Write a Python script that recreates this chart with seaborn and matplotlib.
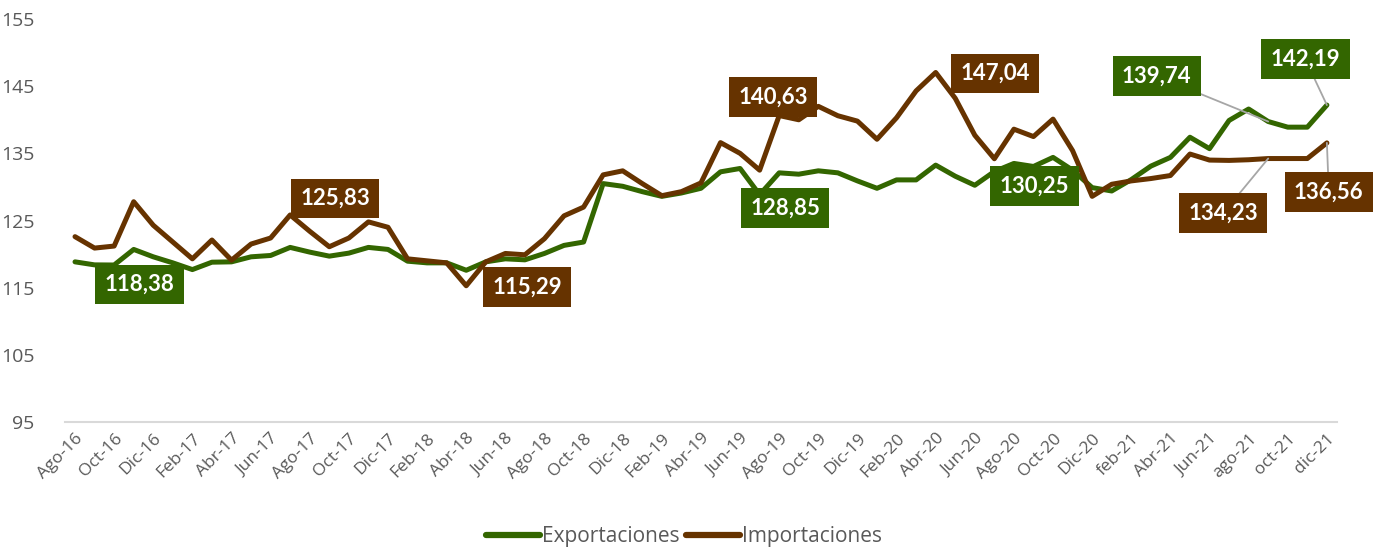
import matplotlib
matplotlib.use("Agg")
import matplotlib.pyplot as plt
import pandas as pd
import seaborn as sns

# monthly index values, Ago-16 .. dic-21
exportaciones = [
    118.85, 118.40, 118.38, 120.70, 119.60, 118.70, 117.70, 118.80, 118.85, 119.60,
    119.80, 121.00, 120.30, 119.70, 120.15, 121.00, 120.70, 118.95, 118.70, 118.70,
    117.60, 118.85, 119.30, 119.15, 120.10, 121.30, 121.80, 130.50, 130.10, 129.30,
    128.60, 129.10, 129.80, 132.25, 132.75, 128.85, 132.10, 131.90, 132.40, 132.10,
    130.90, 129.80, 131.05, 131.05, 133.25, 131.60, 130.25, 132.30, 133.50, 133.05,
    134.40, 132.50, 129.90, 129.40, 131.10, 133.10, 134.40, 137.40, 135.70, 139.90,
    141.60, 139.74, 138.90, 138.90, 142.19,
]
importaciones = [
    122.60, 120.90, 121.20, 127.80, 124.30, 121.80, 119.30, 122.10, 119.10, 121.50,
    122.40, 125.83, 123.40, 121.10, 122.40, 124.80, 124.00, 119.30, 119.00, 118.70,
    115.29, 118.85, 120.10, 119.90, 122.30, 125.70, 127.00, 131.80, 132.40, 130.50,
    128.70, 129.30, 130.60, 136.60, 135.00, 132.50, 140.63, 140.00, 142.00, 140.60,
    139.80, 137.10, 140.30, 144.30, 147.04, 143.20, 137.70, 134.20, 138.60, 137.50,
    140.10, 135.40, 128.60, 130.40, 130.90, 131.25, 131.70, 134.90, 134.00, 133.95,
    134.05, 134.23, 134.23, 134.23, 136.56,
]
tick_labels = [
    "Ago-16", "Oct-16", "Dic-16", "Feb-17", "Abr-17", "Jun-17", "Ago-17", "Oct-17",
    "Dic-17", "Feb-18", "Abr-18", "Jun-18", "Ago-18", "Oct-18", "Dic-18", "Feb-19",
    "Abr-19", "Jun-19", "Ago-19", "Oct-19", "Dic-19", "Feb-20", "Abr-20", "Jun-20",
    "Ago-20", "Oct-20", "Dic-20", "feb-21", "Abr-21", "Jun-21", "ago-21", "oct-21",
    "dic-21",
]
y_ticks = [95, 105, 115, 125, 135, 145, 155]

# labelled points: (month index, label x, label y, leader line)
labels_exp = [(2, 3.3, 115.5, False), (35, 36.3, 126.85, False), (46, 49.05, 130.1, False),
              (61, 55.3, 146.5, True), (64, 62.9, 149.0, True)]
labels_imp = [(11, 13.3, 128.3, False), (20, 23.1, 115.15, False), (36, 35.7, 143.4, False),
              (44, 47.05, 146.9, False), (61, 58.7, 126.1, True), (64, 64.1, 129.2, True)]

GREEN = "#336600"
BROWN = "#663300"
GREY = "#595959"

n = len(exportaciones)
df = pd.DataFrame({
    "mes": list(range(n)) * 2,
    "valor": exportaciones + importaciones,
    "serie": ["Exportaciones"] * n + ["Importaciones"] * n,
})

sns.set_style("white")
plt.rcParams["font.family"] = ["Open Sans", "DejaVu Sans"]

fig = plt.figure(figsize=(13.85, 5.51), dpi=100)
ax = fig.add_axes([0.0471, 0.234, 0.918, 0.7315])

sns.lineplot(data=df, x="mes", y="valor", hue="serie",
             palette={"Exportaciones": GREEN, "Importaciones": BROWN},
             linewidth=3.6, ax=ax, legend=True)

ax.set_xlim(-0.5, n - 0.5)
ax.set_ylim(95, 155)
ax.set_yticks(y_ticks)
ax.set_yticklabels([str(v) for v in y_ticks], fontsize=14, color=GREY)
ax.set_xticks(range(0, n, 2))
ax.set_xticklabels(tick_labels, rotation=45, ha="right", rotation_mode="anchor",
                   fontsize=12.5, color=GREY)
ax.tick_params(axis="both", length=0, pad=6)
ax.tick_params(axis="y", pad=22)
ax.set_xlabel("")
ax.set_ylabel("")
for side in ["top", "right", "left"]:
    ax.spines[side].set_visible(False)
ax.spines["bottom"].set_color("#d9d9d9")
ax.spines["bottom"].set_linewidth(1.5)


def add_labels(values, specs, color):
    for idx, lx, ly, leader in specs:
        arrow = None
        if leader:
            arrow = dict(arrowstyle="-", color="#a6a6a6", lw=1.3, shrinkA=0, shrinkB=0)
        ax.annotate(f"{values[idx]:.2f}".replace(".", ","),
                    xy=(idx, values[idx]), xytext=(lx, ly),
                    ha="center", va="center", fontsize=16, fontweight="bold",
                    family=["Lato", "DejaVu Sans"], color="white",
                    bbox=dict(boxstyle="square,pad=0.42", fc=color, ec="none"),
                    arrowprops=arrow, zorder=5)


add_labels(exportaciones, labels_exp, GREEN)
add_labels(importaciones, labels_imp, BROWN)

handles, names = ax.get_legend_handles_labels()
ax.get_legend().remove()
leg = fig.legend(handles, names, loc="center", bbox_to_anchor=(0.494, 0.026), ncol=2,
                 frameon=False, fontsize=15, handlelength=2.6, handletextpad=0.1,
                 columnspacing=0.3, labelcolor=GREY)
for line in leg.get_lines():
    line.set_linewidth(4.5)

fig.savefig("out.png", dpi=100)
